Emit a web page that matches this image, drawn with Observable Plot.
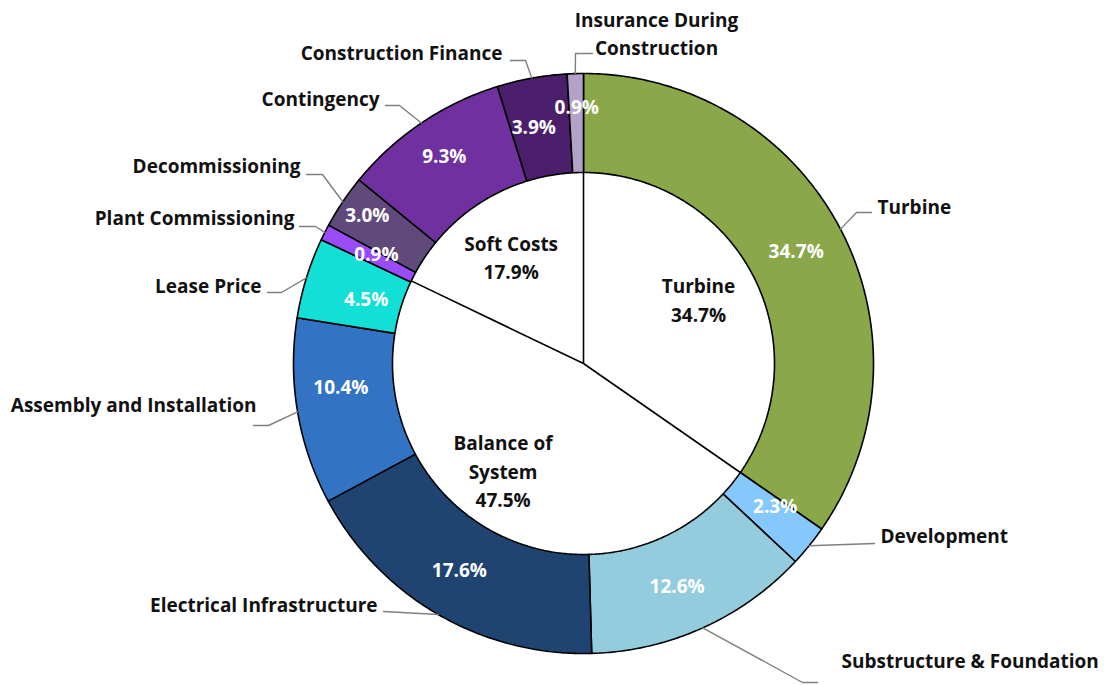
<!DOCTYPE html>
<html>
<head>
<meta charset="utf-8">
<script src="https://cdn.jsdelivr.net/npm/d3@7"></script>
<script src="https://cdn.jsdelivr.net/npm/@observablehq/plot@0.6"></script>
<style>
  html, body { margin: 0; padding: 0; background: #fff; }
  #chart svg { display: block; }
</style>
</head>
<body>
<div id="chart"></div>
<script>
// ---------- data ----------
const categories = ["Turbine", "Development", "Substructure & Foundation", "Electrical Infrastructure",
  "Assembly and Installation", "Lease Price", "Plant Commissioning", "Decommissioning",
  "Contingency", "Construction Finance", "Insurance During Construction"];
const shares = [34.7, 2.3, 12.6, 17.6, 10.4, 4.5, 0.9, 3.0, 9.3, 3.9, 0.9];
const categoryDisplay = ["Turbine", "Development", "Substructure & Foundation", "Electrical Infrastructure",
  "Assembly and Installation", "Lease Price", "Plant Commissioning", "Decommissioning",
  "Contingency", "Construction Finance", "Insurance During\nConstruction"];

const groups = ["Turbine", "Balance of System", "Soft Costs"];
const groupShares = [34.7, 47.5, 17.9];
const groupDisplay = ["Turbine", "Balance of\nSystem", "Soft Costs"];

// ---------- styles ----------
const colors = ["#8AA84A", "#85C8FC", "#93CDDD", "#1F4472", "#3373C4", "#12E0D6",
  "#9A4CF9", "#5F4A7B", "#7030A0", "#4B1F6B", "#B3A2C7"];

// ---------- layout (page pixels) ----------
const CX = 583, CY = 363;          // centre of the doughnut on the page
const R_OUT = 290, R_IN = 191;     // ring radii (pixels)
const R_LAB = 240, R_GLAB = 132;   // label radii
// nudges for percentage labels in the ring [dx, dy] (page px)
const ringNudge = [[0,0],[5,-7],[-5,5],[-4,0],[-6,-16],[12,7],[7,0],[-17,-14],[-5,-8],[-7,1],[0,-16]];
const groupNudge = [[-2,-4],[-14,-8],[-2,4]];
// outside labels: elbow, end of leader, text anchor point, text anchor
const outside = [
  {elbow: [856,212], end: [871,212], text: [877,207], anchor: "start"},
  {elbow: null,      end: [874,543], text: [880,536], anchor: "start"},
  {elbow: [802,682], end: [817,682], text: [841,661], anchor: "start"},
  {elbow: null,      end: [383,611], text: [377,605], anchor: "end"},
  {elbow: [268,425], end: [253,425], text: [256,405], anchor: "end"},
  {elbow: [281,292], end: [267,292], text: [261,286], anchor: "end"},
  {elbow: [315,226], end: [299,226], text: [294,218], anchor: "end"},
  {elbow: [322,174], end: [306,174], text: [300,166], anchor: "end"},
  {elbow: [399,105], end: [385,105], text: [379,99],  anchor: "end"},
  {elbow: [525,60],  end: [510,60],  text: [502,53],  anchor: "end"},
  {elbow: [575,53],  end: [592,53],  text: [656,32],  anchor: "middle"}
];

// ---------- derived geometry ----------
const px = (p) => ({x: p[0] - CX, y: CY - p[1]});
const polar = (r, a) => ({x: r * Math.sin(a), y: r * Math.cos(a)});

const arcs = d3.pie().sort(null).value(d => d)(shares);
const groupArcs = d3.pie().sort(null).value(d => d)(groupShares);

const ringPts = [];
arcs.forEach((a, i) => {
  const n = Math.max(2, Math.ceil((a.endAngle - a.startAngle) / (Math.PI / 360)));
  const pts = [];
  for (let k = 0; k <= n; k++) pts.push(polar(R_OUT, a.startAngle + (a.endAngle - a.startAngle) * k / n));
  for (let k = n; k >= 0; k--) pts.push(polar(R_IN, a.startAngle + (a.endAngle - a.startAngle) * k / n));
  pts.push(pts[0]);
  pts.forEach(p => ringPts.push({...p, name: categories[i], color: colors[i]}));
});

const ringLabels = arcs.map((a, i) => {
  const m = (a.startAngle + a.endAngle) / 2;
  const p = polar(R_LAB, m);
  return {x: p.x + ringNudge[i][0], y: p.y - ringNudge[i][1], text: shares[i].toFixed(1) + "%"};
});

const radials = groupArcs.map(a => ({a: a.startAngle, ...polar(R_IN, a.startAngle)}));

const groupLabels = groupArcs.map((a, i) => {
  const p = polar(R_GLAB, (a.startAngle + a.endAngle) / 2);
  return {x: p.x + groupNudge[i][0], y: p.y - groupNudge[i][1],
          text: groupDisplay[i] + "\n" + groupShares[i].toFixed(1) + "%"};
});

const leaderPts = [];
const outLabels = [];
arcs.forEach((a, i) => {
  const o = outside[i];
  const start = polar(R_OUT, (a.startAngle + a.endAngle) / 2);
  leaderPts.push({...start, name: categories[i]});
  if (o.elbow) leaderPts.push({...px(o.elbow), name: categories[i]});
  leaderPts.push({...px(o.end), name: categories[i]});
  outLabels.push({...px(o.text), text: categoryDisplay[i], anchor: o.anchor});
});

const font = "'Open Sans', Lato, sans-serif";
const FS = 19;

const chart = Plot.plot({
  width: 1109,
  height: 685,
  margin: 0,
  x: {domain: [-CX, 1109 - CX], axis: null},
  y: {domain: [CY - 685, CY], axis: null},
  color: {type: "identity"},
  style: {fontFamily: font, background: "#fff"},
  marks: [
    Plot.line(ringPts, {x: "x", y: "y", z: "name", fill: "color", stroke: "black", strokeWidth: 1.6, strokeLinejoin: "miter"}),
    Plot.link(radials, {x1: 0, y1: 0, x2: "x", y2: "y", stroke: "black", strokeWidth: 1.6}),
    Plot.line(leaderPts, {x: "x", y: "y", z: "name", stroke: "#7f7f7f", strokeWidth: 1.4}),
    Plot.text(ringLabels, {x: "x", y: "y", text: "text", fill: "white", fontSize: FS, fontWeight: "bold"}),
    Plot.text(groupLabels, {x: "x", y: "y", text: "text", fill: "#111", fontSize: FS, fontWeight: "bold", lineHeight: 1.5}),
    Plot.text(outLabels.filter(d => d.anchor === "start"), {x: "x", y: "y", text: "text", textAnchor: "start", fill: "#111", fontSize: FS, fontWeight: "bold"}),
    Plot.text(outLabels.filter(d => d.anchor === "end"), {x: "x", y: "y", text: "text", textAnchor: "end", fill: "#111", fontSize: FS, fontWeight: "bold"}),
    Plot.text(outLabels.filter(d => d.anchor === "middle"), {x: "x", y: "y", text: "text", textAnchor: "middle", fill: "#111", fontSize: FS, fontWeight: "bold", lineHeight: 1.47})
  ]
});
document.getElementById("chart").appendChild(chart);
</script>
</body>
</html>
